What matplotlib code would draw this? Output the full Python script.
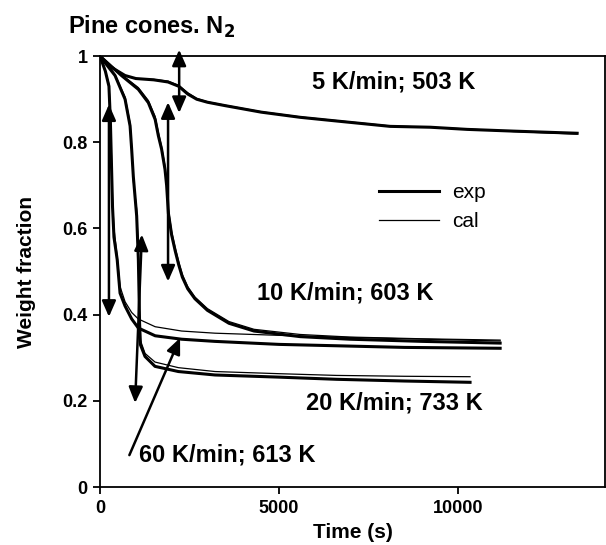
import matplotlib
matplotlib.use("Agg")
import matplotlib.pyplot as plt
from matplotlib.lines import Line2D

plt.rcParams['font.family'] = ['Liberation Sans', 'DejaVu Sans']

# weight-loss curves of pine cones under N2 (time in s, weight fraction)
t5 = [0, 300, 700, 1000, 1500, 1900, 2200, 2450, 2700, 3000, 3500, 4500,
      5590, 6420, 7260, 8100, 9220, 10250, 11540, 13320]
w5_exp = [1.0, 0.975, 0.955, 0.948, 0.945, 0.94, 0.93, 0.912, 0.9, 0.893,
          0.885, 0.87, 0.858, 0.851, 0.844, 0.837, 0.835, 0.83, 0.826, 0.821]
w5_cal = [1.0, 0.975, 0.955, 0.948, 0.946, 0.942, 0.932, 0.915, 0.902, 0.894,
          0.886, 0.871, 0.859, 0.852, 0.845, 0.838, 0.835, 0.831, 0.825, 0.819]

t10 = [0, 600, 1070, 1350, 1540, 1630, 1720, 1815, 1860, 1910, 2000, 2100,
       2200, 2300, 2450, 2650, 3000, 3600, 4300, 5590, 6980, 9000, 11170]
w10_exp = [1.0, 0.955, 0.923, 0.892, 0.853, 0.815, 0.784, 0.737, 0.7, 0.635,
           0.585, 0.548, 0.515, 0.487, 0.46, 0.437, 0.41, 0.38, 0.362, 0.349,
           0.343, 0.338, 0.334]
w10_cal = [1.0, 0.957, 0.927, 0.897, 0.86, 0.823, 0.79, 0.745, 0.708, 0.645,
           0.593, 0.555, 0.522, 0.493, 0.465, 0.441, 0.414, 0.384, 0.366,
           0.354, 0.348, 0.344, 0.341]

t20 = [0, 420, 700, 840, 884, 931, 1024, 1071, 1090, 1105, 1130, 1257, 1536,
       2188, 3212, 5000, 6600, 8500, 10330]
w20_exp = [1.0, 0.955, 0.9, 0.838, 0.784, 0.72, 0.629, 0.528, 0.45, 0.38,
           0.33, 0.303, 0.28, 0.268, 0.26, 0.255, 0.25, 0.246, 0.243]
w20_cal = [1.0, 0.957, 0.905, 0.845, 0.79, 0.71, 0.645, 0.545, 0.46, 0.39,
           0.34, 0.31, 0.29, 0.277, 0.268, 0.263, 0.259, 0.257, 0.256]

t60 = [0, 150, 250, 290, 320, 350, 390, 480, 560, 700, 885, 1070, 1540,
       2280, 3210, 5000, 7000, 8500, 11170]
w60_exp = [1.0, 0.965, 0.93, 0.85, 0.75, 0.65, 0.58, 0.528, 0.45, 0.42,
           0.39, 0.369, 0.351, 0.343, 0.338, 0.331, 0.327, 0.324, 0.322]
w60_cal = [1.0, 0.965, 0.935, 0.87, 0.77, 0.67, 0.6, 0.535, 0.465, 0.43,
           0.405, 0.39, 0.372, 0.362, 0.357, 0.352, 0.347, 0.344, 0.339]

# double arrows marking each mass-loss step: (x0, y0, x1, y1)
steps = [(2210, 1.015, 2210, 0.868),
         (1900, 0.893, 1900, 0.477),
         (250, 0.888, 250, 0.395),
         (1170, 0.586, 980, 0.195)]

# labels: (text, x, y)
run_labels = [("5 K/min; 503 K", 5920, 0.94),
              ("10 K/min; 603 K", 4385, 0.451),
              ("20 K/min; 733 K", 5750, 0.195)]

fig = plt.figure(figsize=(6.06, 5.45), dpi=100)
ax = fig.add_axes([0.165, 0.1064, 0.8335, 0.7906])

lw_exp, lw_cal = 2.2, 0.9
for t, we, wc in [(t5, w5_exp, w5_cal), (t10, w10_exp, w10_cal),
                  (t20, w20_exp, w20_cal), (t60, w60_exp, w60_cal)]:
    ax.plot(t, wc, color='black', lw=lw_cal)
    ax.plot(t, we, color='black', lw=lw_exp)

arrow_style = dict(color='black', lw=1.8, shrinkA=0, shrinkB=0,
                   mutation_scale=12)
for x0, y0, x1, y1 in steps:
    ax.annotate('', xy=(x1, y1), xytext=(x0, y0), annotation_clip=False,
                arrowprops=dict(arrowstyle='<|-|>,head_length=0.8,head_width=0.35',
                                **arrow_style))

for txt, x, y in run_labels:
    ax.text(x, y, txt, fontsize=17, fontweight='bold', va='center', ha='left')

# label for the 60 K/min run with a pointer onto its curve
ax.annotate('', xy=(2235, 0.346), xytext=(820, 0.074),
            arrowprops=dict(arrowstyle='-|>,head_length=0.8,head_width=0.35',
                            **arrow_style))
ax.text(1090, 0.074, "60 K/min; 613 K", fontsize=17, fontweight='bold',
        va='center', ha='left')

# legend
handles = [Line2D([], [], color='black', lw=lw_exp),
           Line2D([], [], color='black', lw=lw_cal)]
ax.legend(handles, ['exp', 'cal'], loc='upper left',
          bbox_to_anchor=(0.515, 0.748), frameon=False, fontsize=15,
          handlelength=2.9, handletextpad=0.6, labelspacing=0.45)

ax.set_xlim(0, 14100)
ax.set_ylim(0, 1)
ax.set_xticks([0, 5000, 10000])
ax.set_xticklabels(['0', '5000', '10000'])
ax.set_yticks([0, 0.2, 0.4, 0.6, 0.8, 1.0])
ax.set_yticklabels(['0', '0.2', '0.4', '0.6', '0.8', '1'])
ax.tick_params(direction='out', length=5, width=1.3, labelsize=13, pad=4)
for lab in ax.get_xticklabels() + ax.get_yticklabels():
    lab.set_fontweight('bold')
for sp in ax.spines.values():
    sp.set_linewidth(1.3)

ax.set_xlabel('Time (s)', fontsize=15, fontweight='bold', labelpad=5)
ax.set_ylabel('Weight fraction', fontsize=15, fontweight='bold', labelpad=19)
fig.text(0.113, 0.95, 'Pine cones. N$_\\mathbf{2}$', fontsize=17,
         fontweight='bold', va='center', ha='left')

fig.savefig('out.png', dpi=100)
